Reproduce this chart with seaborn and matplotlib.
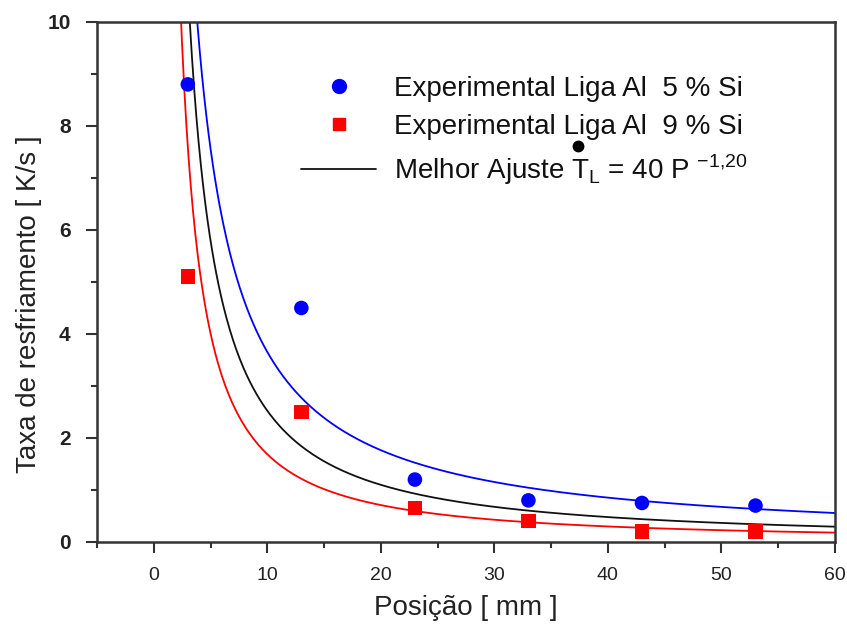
import numpy as np
import pandas as pd
import matplotlib
matplotlib.use("Agg")
import matplotlib.pyplot as plt
from matplotlib.lines import Line2D
from matplotlib.text import Text
from matplotlib.ticker import MultipleLocator
import seaborn as sns

# Measured cooling rates at each thermocouple position
posicao = [3, 13, 23, 33, 43, 53]
taxa_5si = [8.8, 4.5, 1.2, 0.8, 0.75, 0.7]
taxa_9si = [5.1, 2.5, 0.65, 0.4, 0.2, 0.2]

# Power-law fits  T = a * P^(-b)
ajuste_5si = (41.0, 1.05)
ajuste_9si = (30.0, 1.25)
ajuste_geral = (40.0, 1.20)

prefixo_ajuste = "Melhor Ajuste "
labels = ["Experimental Liga Al  5 % Si",
          "Experimental Liga Al  9 % Si",
          prefixo_ajuste + r"T$_{\mathrm{L}}$ = 40 P $^{-1{,}20}$"]

sns.set_theme(style="ticks")
plt.rcParams["font.family"] = ["Liberation Sans", "DejaVu Sans"]
plt.rcParams["mathtext.fontset"] = "custom"
plt.rcParams["mathtext.rm"] = "Liberation Sans"

fig = plt.figure(figsize=(8.47, 6.28), dpi=100)
ax = fig.add_axes([0.1145, 0.137, 0.8713, 0.828])

p = np.linspace(1.2, 60, 600)
curvas = pd.concat([
    pd.DataFrame({"P": p, "T": a * p ** (-b), "serie": nome})
    for nome, (a, b) in [("5si", ajuste_5si), ("9si", ajuste_9si), ("geral", ajuste_geral)]
])
sns.lineplot(data=curvas, x="P", y="T", hue="serie",
             palette={"5si": "#0000ff", "9si": "#ff0000", "geral": "#111111"},
             linewidth=1.3, legend=False, ax=ax, sort=False)

pontos = pd.DataFrame({"P": posicao * 2, "T": taxa_5si + taxa_9si,
                       "liga": ["5si"] * 6 + ["9si"] * 6})
sns.scatterplot(data=pontos, x="P", y="T", hue="liga", style="liga",
                palette={"5si": "#0000ff", "9si": "#ff0000"},
                markers={"5si": "o", "9si": "s"}, s=110, linewidth=0,
                legend=False, ax=ax, zorder=5)

ax.set_xlim(-5, 60)
ax.set_ylim(0, 10)
ax.xaxis.set_major_locator(MultipleLocator(10))
ax.xaxis.set_minor_locator(MultipleLocator(5))
ax.yaxis.set_major_locator(MultipleLocator(2))
ax.yaxis.set_minor_locator(MultipleLocator(1))
ax.tick_params(which="major", length=8, width=1.5, color="#333333",
               labelsize=14, labelcolor="#222222", direction="out")
ax.tick_params(which="minor", length=4, width=1.5, color="#333333", direction="out")
ax.tick_params(axis="x", which="major", pad=10)
ax.tick_params(axis="y", which="major", pad=11, labelsize=15)
for lbl in ax.get_yticklabels():
    lbl.set_fontweight("bold")
for s in ax.spines.values():
    s.set_visible(True)
    s.set_linewidth(1.8)
    s.set_color("#333333")

ax.set_xlabel("Posição [ mm ]", fontsize=20, color="#222222", labelpad=8)
ax.set_ylabel("Taxa de resfriamento [ K/s ]", fontsize=20, color="#222222")
ax.yaxis.set_label_coords(-0.075, 0.458)

handles = [
    Line2D([], [], linestyle="none", marker="o", color="#0000ff", markersize=10),
    Line2D([], [], linestyle="none", marker="s", color="#ff0000", markersize=9),
    Line2D([], [], color="#111111", linewidth=1.3),
]
leg = ax.legend(handles, labels, loc="upper left", bbox_to_anchor=(0.243, 0.945),
                frameon=False, fontsize=20, handlelength=2.7, handletextpad=0.65,
                labelspacing=0.45, labelcolor="#111111")

# Dot over the T of the fit label (time derivative)
fig.canvas.draw()
renderer = fig.canvas.get_renderer()
texto = leg.get_texts()[2]
bb = texto.get_window_extent(renderer)
w_pref = Text(0, 0, prefixo_ajuste, fontsize=20, figure=fig).get_window_extent(renderer).width
w_t = Text(0, 0, "T", fontsize=20, figure=fig).get_window_extent(renderer).width
fx, fy = fig.transFigure.inverted().transform((bb.x0 + w_pref + w_t / 2, bb.y1 + 7))
fig.add_artist(Line2D([fx], [fy], transform=fig.transFigure, linestyle="none",
                      marker="o", markersize=7.5, color="#000000"))

fig.savefig("out.png", dpi=100)
